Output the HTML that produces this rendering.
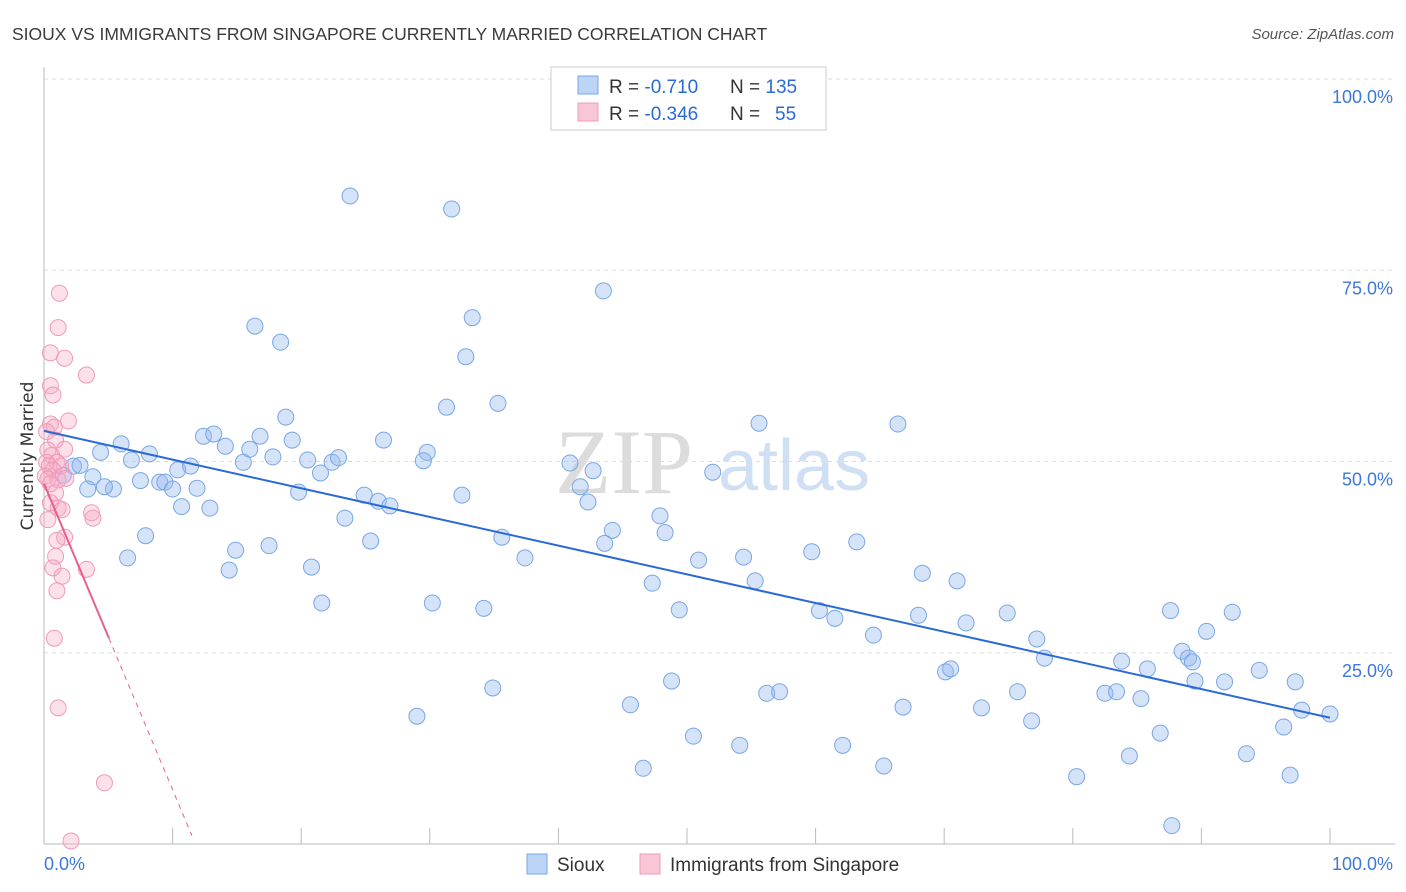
<!DOCTYPE html>
<html><head><meta charset="utf-8">
<style>
body{margin:0;background:#fff;font-family:"Liberation Sans",sans-serif;}
svg{display:block}
</style></head>
<body>
<svg id="chart" width="1406" height="892">
<text x="12" y="40" font-size="17.5" fill="#3a3a3a">SIOUX VS IMMIGRANTS FROM SINGAPORE CURRENTLY MARRIED CORRELATION CHART</text>
<text x="1394" y="39" font-size="15" fill="#555" font-style="italic" text-anchor="end">Source: ZipAtlas.com</text>
<g>
<text x="555" y="493" font-size="92" font-family="Liberation Serif,serif" fill="#dcdcdc">ZIP</text>
<text x="718" y="490" font-size="72" fill="#cfe0f5">atlas</text>
</g>
<g id="grid"></g>
<g id="marks"></g>
<text x="33" y="456" font-size="17" font-family="DejaVu Sans,sans-serif" fill="#333" text-anchor="middle" transform="rotate(-90 33 456)">Currently Married</text>
<g>
<rect x="551" y="67" width="275" height="63" fill="#fff" stroke="#ccc"/>
<rect x="578" y="76" width="20" height="18" fill="#bcd4f6" stroke="#7aa6e6"/>
<rect x="578" y="103" width="20" height="18" fill="#f9c6d6" stroke="#f09ab8"/>
<text x="609" y="93" font-size="19" fill="#333">R = <tspan fill="#2a6ad6">-0.710</tspan><tspan x="730">N = </tspan><tspan fill="#2a6ad6">135</tspan></text>
<text x="609" y="120" font-size="19" fill="#333">R = <tspan fill="#2a6ad6">-0.346</tspan><tspan x="730">N = </tspan><tspan x="775" fill="#2a6ad6">55</tspan></text>
</g>
<g>
<rect x="527" y="854" width="20" height="20" fill="#bcd4f6" stroke="#7aa6e6"/>
<text x="557" y="871" font-size="19" fill="#333">Sioux</text>
<rect x="640" y="854" width="20" height="20" fill="#f9c6d6" stroke="#f09ab8"/>
<text x="670" y="871" font-size="19" fill="#333">Immigrants from Singapore</text>
</g>
</svg>
<script>
const yTicks=[100,75,50,25];
const yTickLabels=["100.0%","75.0%","50.0%","25.0%"];
const xTickLabels=["0.0%","100.0%"];
const siouxX=[23.8,31.7,43.5,16.4,18.4,33.3,32.8,31.3,35.3,55.6,66.4,18.8,12.4,13.2,16.8,6.0,8.2,6.8,4.4,2.3,2.8,1.5,3.8,3.4,5.4,4.7,7.5,9.0,9.4,10.0,10.4,11.4,11.9,10.7,12.9,14.1,15.5,16.0,17.8,19.3,20.5,22.4,22.9,21.5,19.8,26.4,29.8,29.5,24.9,26.0,26.9,32.5,23.4,25.4,35.6,37.4,40.9,42.7,41.7,42.3,44.2,43.6,52.0,47.9,48.3,7.9,6.5,14.9,17.5,14.4,20.8,21.6,30.2,34.2,47.3,49.4,50.9,54.4,55.3,59.7,60.3,61.5,63.2,64.5,68.3,68.0,71.0,71.7,74.9,77.2,77.8,83.8,85.8,87.6,88.5,89.0,89.3,90.4,92.4,94.5,89.5,91.8,97.3,97.8,100,96.4,70.1,70.5,48.8,56.2,57.2,34.9,29.0,45.6,66.8,72.9,75.7,76.8,82.5,83.4,85.3,86.8,84.4,93.5,96.9,80.3,87.7,65.3,62.1,54.1,50.5,46.6];
const siouxY=[84.7,83.0,72.3,67.7,65.6,68.8,63.7,57.1,57.6,55.0,54.9,55.8,53.3,53.6,53.3,52.3,51.0,50.2,51.2,49.4,49.5,48.2,48.0,46.4,46.4,46.7,47.5,47.3,47.3,46.4,48.9,49.4,46.5,44.1,43.9,52.0,49.9,51.6,50.6,52.8,50.2,49.9,50.5,48.5,46.0,52.8,51.2,50.1,45.6,44.8,44.2,45.6,42.6,39.6,40.1,37.4,49.8,48.8,46.7,44.7,41.0,39.3,48.6,42.9,40.7,40.3,37.4,38.4,39.0,35.8,36.2,31.5,31.5,30.8,34.1,30.6,37.1,37.5,34.4,38.2,30.5,29.5,39.5,27.3,35.4,29.9,34.4,28.9,30.2,26.8,24.3,23.9,22.9,30.5,25.2,24.3,23.8,27.8,30.3,22.7,21.3,21.2,21.2,17.5,17.0,15.3,22.5,22.9,21.3,19.7,19.9,20.4,16.7,18.2,17.9,17.8,19.9,16.1,19.7,19.9,19.0,14.5,11.5,11.8,9.0,8.8,2.4,10.2,12.9,12.9,14.1,9.9];
const singX=[1.2,1.1,0.5,1.6,3.3,0.5,0.7,1.9,0.5,0.8,0.2,0.9,1.6,0.3,0.6,0.2,1.0,0.4,1.3,0.7,0.1,0.3,1.1,0.5,1.7,0.9,0.5,1.1,1.4,3.7,3.8,0.3,1.6,1.0,0.9,0.7,1.4,3.3,1.0,0.8,1.1,4.7,2.1];
const singY=[72.0,67.5,64.2,63.5,61.3,59.9,58.7,55.3,54.9,54.5,53.9,52.8,51.6,51.5,50.8,49.9,49.9,49.4,49.4,48.9,48.1,47.7,47.6,47.1,47.8,45.9,44.6,43.9,43.7,43.3,42.6,42.4,40.1,39.7,37.6,36.1,35.0,35.9,33.1,26.9,17.8,8.0,0.4];
const siouxFit=[54.0,16.5];
const singFit=[47.1,-4.0];
const singSolidEnd=5.05, singDashEnd=11.5;

const NS="http://www.w3.org/2000/svg";
const X0=44,X1=1330,Y0=844,Y100=79;
const sx=v=>X0+(X1-X0)*v/100;
const sy=v=>Y0-(Y0-Y100)*v/100;
const grid=document.getElementById('grid'),marks=document.getElementById('marks');
function mk(tag,attrs,parent){const e=document.createElementNS(NS,tag);for(const k in attrs)e.setAttribute(k,attrs[k]);parent.appendChild(e);return e;}
yTicks.forEach((t,i)=>{
  const l=mk('line',{x1:X0,x2:1395,y1:sy(t),y2:sy(t),stroke:'#ddd','stroke-dasharray':'4,4'},grid);
  
  
  const tx=mk('text',{x:1393,y:sy(t)+24,'font-size':18,fill:'#3d78d8','text-anchor':'end'},grid);
  tx.textContent=yTickLabels[i];
  
  
});
const ya=mk('line',{x1:X0,x2:X0,y1:67,y2:Y0,stroke:'#bbb'},grid);


const xa=mk('line',{x1:X0,x2:1395,y1:Y0,y2:Y0,stroke:'#bbb'},grid);


for(let i=0;i<=10;i++){
  const t=mk('line',{x1:sx(i*10),x2:sx(i*10),y1:828,y2:Y0,stroke:'#bbb'},grid);
  
  
}
[[0,'start',X0],[100,'end',1393]].forEach((d,i)=>{
  const tx=mk('text',{x:d[2],y:870,'font-size':18,fill:'#3d78d8','text-anchor':d[1]},grid);
  tx.textContent=xTickLabels[i];
  
  
});
siouxX.forEach((v,i)=>{
  const c=mk('circle',{cx:sx(v),cy:sy(siouxY[i]),r:8,fill:'rgba(150,185,240,0.4)',stroke:'#7aa6e6','stroke-width':1},marks);
  
  
});
singX.forEach((v,i)=>{
  const c=mk('circle',{cx:sx(v),cy:sy(singY[i]),r:8,fill:'rgba(245,170,195,0.35)',stroke:'#f09ab8','stroke-width':1},marks);
  
  
});
const bl=mk('line',{x1:sx(0),y1:sy(siouxFit[0]),x2:sx(100),y2:sy(siouxFit[1]),stroke:'#2a6ad6','stroke-width':2},marks);


const pf=x=>singFit[0]+singFit[1]*x;
const pl=mk('line',{x1:sx(0),y1:sy(pf(0)),x2:sx(singSolidEnd),y2:sy(pf(singSolidEnd)),stroke:'#e8608c','stroke-width':2},marks);


const pd=mk('line',{x1:sx(singSolidEnd),y1:sy(pf(singSolidEnd)),x2:sx(singDashEnd),y2:sy(pf(singDashEnd)),stroke:'#e8608c','stroke-width':1,'stroke-dasharray':'5,5'},marks);


</script>
</body></html>
